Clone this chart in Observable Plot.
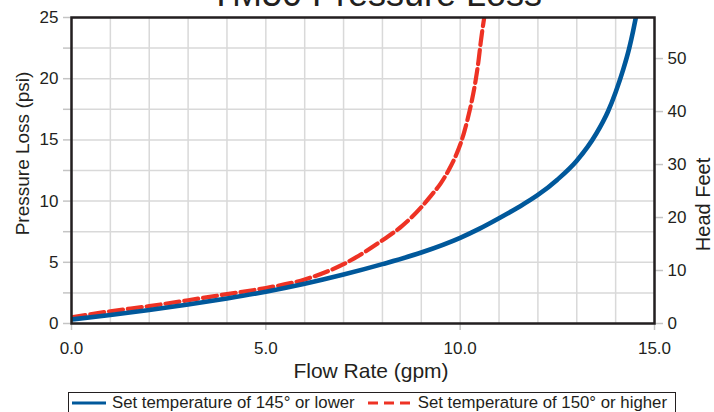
<!DOCTYPE html>
<html><head><meta charset="utf-8">
<script src="https://cdn.jsdelivr.net/npm/d3@7"></script>
<script src="https://cdn.jsdelivr.net/npm/@observablehq/plot@0.6"></script>
<style>
body{margin:0;background:#fff;font-family:"Liberation Sans",Arial,sans-serif;color:#231f20;}
#wrap{position:relative;width:714px;height:412px;overflow:hidden;background:#fff;}
#title{position:absolute;left:0;width:752px;text-align:center;top:-24px;font-size:36px;line-height:36px;white-space:nowrap;}
#chart{position:absolute;left:0;top:0;}
#legend{position:absolute;left:68px;top:392px;width:608px;height:24px;border:1px solid #231f20;box-sizing:border-box;display:flex;align-items:flex-start;font-size:16.8px;line-height:18px;padding-top:1px;white-space:nowrap;}
#legend svg{display:block;margin-top:6px;}
</style></head>
<body><div id="wrap"><div id="chart"></div><div id="title">TM50 Pressure Loss</div><div id="legend"></div></div>
<script>
// Series: 145° or lower (blue, solid)
const flowLow = [0,1,2,3,4,5,6,7,8,9,10,10.5,11,11.5,12,12.5,13,13.5,13.8,14,14.2,14.35,14.45,14.52];
const lossLow = [0.33,0.7,1.1,1.55,2.05,2.6,3.25,4.0,4.85,5.8,7.0,7.75,8.6,9.5,10.5,11.75,13.3,15.5,17.3,18.9,20.8,22.5,23.9,25];
// Series: 150° or higher (red, dashed)
const flowHigh = [0,1,2,3,4,5,6,7,8,8.5,9,9.25,9.5,9.7,9.9,10,10.1,10.2,10.3,10.4,10.47,10.53,10.6,10.62];
const lossHigh = [0.5,1.0,1.42,1.9,2.4,2.9,3.6,4.85,6.8,7.95,9.5,10.45,11.45,12.5,13.8,14.6,15.6,16.8,18.2,19.9,21.4,23.0,24.6,25];
const seriesNames = ["Set temperature of 145° or lower","Set temperature of 150° or higher"];
const seriesColors = ["#00589b","#ee3224"];
// Axis ticks
const xTicks = [0,5,10,15];
const xGrid = d3.range(0,16,1);
const yTicks = [0,5,10,15,20,25];
const yGrid = d3.range(0,25.1,2.5);
const headTicks = [0,10,20,30,40,50];
const feetPerPsi = 2.31;

const low = flowLow.map((x,i)=>({x, y: lossLow[i]}));
const high = flowHigh.map((x,i)=>({x, y: lossHigh[i]}));
const ink = "#231f20", tickGray = "#c4c4c4", gridGray = "#d9d9d9";

const chart = Plot.plot({
  width: 714, height: 390,
  marginLeft: 71, marginRight: 60, marginTop: 17, marginBottom: 67,
  x: {domain:[0,15]}, y: {domain:[0,25]},
  style: {fontFamily: "'Liberation Sans', Arial, sans-serif", fontSize: "17px", color: ink, background: "#fff", overflow: "visible"},
  marks: [
    Plot.gridX(xGrid, {stroke: gridGray, strokeOpacity: 1, strokeWidth: 1.5}),
    Plot.gridY(yGrid, {stroke: gridGray, strokeOpacity: 1, strokeWidth: 1.5}),
    // bottom axis
    Plot.axisX(xTicks, {tickSize: 7, stroke: tickGray, strokeWidth: 1.5, fill: "none", label: null}),
    Plot.axisX(xTicks, {tickSize: 0, tickPadding: 18, tickFormat: d3.format(".1f"), fill: ink, label: null}),
    // left axis
    Plot.axisY(yGrid, {tickSize: 8, stroke: tickGray, strokeWidth: 1.5, fill: "none", label: null}),
    Plot.axisY(yTicks, {tickSize: 0, tickPadding: 13, fill: ink, label: null}),
    // right axis (head feet)
    Plot.axisY(headTicks.map(f => f / feetPerPsi), {anchor: "right", tickSize: 8, stroke: tickGray, strokeWidth: 1.5, fill: "none", label: null}),
    Plot.axisY(headTicks.map(f => f / feetPerPsi), {anchor: "right", tickSize: 0, tickPadding: 13, fill: ink, label: null,
      tickFormat: d => String(Math.round(d * feetPerPsi))}),
    // series
    Plot.line(high, {x: "x", y: "y", stroke: seriesColors[1], strokeWidth: 4.2, strokeDasharray: "14,5", curve: "monotone-x", clip: true}),
    Plot.line(low, {x: "x", y: "y", stroke: seriesColors[0], strokeWidth: 4.6, curve: "monotone-x", clip: true}),
    Plot.frame({stroke: ink, strokeWidth: 2.5}),
    // axis titles
    Plot.text(["Flow Rate (gpm)"], {frameAnchor: "bottom", textAnchor: "middle", lineAnchor: "middle", dx: 8, dy: 48, fontSize: 21, fill: ink}),
    Plot.text(["Pressure Loss (psi)"], {frameAnchor: "left", textAnchor: "middle", lineAnchor: "middle", rotate: -90, dx: -49, dy: -17, fontSize: 19, fill: ink}),
    Plot.text(["Head Feet"], {frameAnchor: "right", textAnchor: "middle", lineAnchor: "middle", rotate: -90, dx: 49, dy: 34, fontSize: 20, fill: ink})
  ]
});
document.getElementById("chart").appendChild(chart);

// legend
const lg = document.getElementById("legend");
const swatch = (color, w, dash, ml) => {
  const s = d3.create("svg").attr("width", w).attr("height", 6).style("margin-left", ml + "px");
  s.append("line").attr("x1", 0).attr("x2", w).attr("y1", 3).attr("y2", 3)
    .attr("stroke", color).attr("stroke-width", 3).attr("stroke-dasharray", dash);
  return s.node();
};
const label = (t, ml) => { const sp = document.createElement("span"); sp.textContent = t; sp.style.marginLeft = ml + "px"; return sp; };
lg.appendChild(swatch(seriesColors[0], 34, null, 3));
lg.appendChild(label(seriesNames[0], 6));
lg.appendChild(swatch(seriesColors[1], 44, "10,6", 13));
lg.appendChild(label(seriesNames[1], 6));
</script></body></html>
